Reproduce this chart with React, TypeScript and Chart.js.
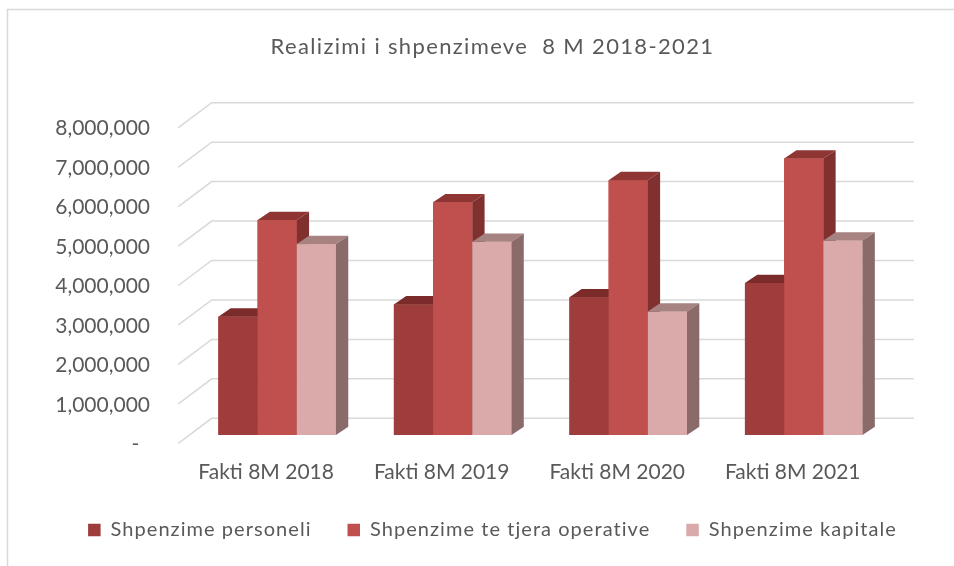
import React, { useEffect, useRef } from 'react';
import { Chart, registerables } from 'chart.js';

Chart.register(...registerables);

const titleText = 'Realizimi i shpenzimeve  8 M 2018-2021';
const categories = ['Fakti 8M 2018', 'Fakti 8M 2019', 'Fakti 8M 2020', 'Fakti 8M 2021'];
const seriesNames = ['Shpenzime personeli', 'Shpenzime te tjera operative', 'Shpenzime kapitale'];
const personeli = [3000000, 3310000, 3490000, 3850000];
const operative = [5450000, 5900000, 6460000, 7010000];
const kapitale = [4840000, 4900000, 3130000, 4930000];
const yMin = 0;
const yMax = 8000000;
const yStep = 1000000;

const FRONT = ['#9E3D3B', '#C0504D', '#D9AAA9'];
const TOP = ['#7B2B2A', '#8F3634', '#A68281'];
const SIDE = ['#6E2624', '#80302E', '#8B6B6A'];
const TEXT = '#595959';
const GRID = '#D9D9D9';
const FONT = 'Lato';

// 3D projection offsets (pixels)
const DX = 12.3, DY = -8.3;
const BACK_DX = 22.3, BACK_DY = -16.7, FRONT_DX = -11.1, FRONT_DY = 8.3;
const TITLE_LS = '1.35px';
const LEGEND_LS = '1.05px';

const threeD = {
  id: 'threeD',
  beforeLayout(chart: any) {
    const tb = chart.titleBlock;
    if (tb && !tb.__ls) {
      tb.__ls = true;
      const orig = tb.draw;
      tb.draw = function (...a: any[]) {
        const c = this.ctx; c.save(); (c as any).letterSpacing = TITLE_LS; orig.apply(this, a); c.restore();
      };
    }
    const lg = chart.legend;
    if (lg && !lg.__ls) {
      lg.__ls = true;
      const of = lg.fit, od = lg.draw;
      lg.fit = function (...a: any[]) {
        const c = this.ctx; c.save(); (c as any).letterSpacing = LEGEND_LS; of.apply(this, a); c.restore();
      };
      lg.draw = function (...a: any[]) {
        const c = this.ctx; c.save(); (c as any).letterSpacing = LEGEND_LS; od.apply(this, a); c.restore();
      };
    }
  },
  beforeDraw(chart: any) {
    const { ctx, width, height } = chart;
    ctx.save();
    ctx.fillStyle = '#ffffff';
    ctx.fillRect(0, 0, width, height);
    ctx.strokeStyle = GRID;
    ctx.lineWidth = 1.5;
    ctx.beginPath();
    ctx.moveTo(7.5, height + 2);
    ctx.lineTo(7.5, 9.5);
    ctx.lineTo(width + 2, 9.5);
    ctx.stroke();
    ctx.restore();
  },
  beforeDatasetsDraw(chart: any) {
    const { ctx, chartArea } = chart;
    const ys = chart.scales.y;
    ctx.save();
    ctx.strokeStyle = GRID;
    ctx.lineWidth = 1.5;
    for (let v = yMin; v <= yMax; v += yStep) {
      const py = ys.getPixelForValue(v);
      ctx.beginPath();
      ctx.moveTo(chartArea.left + FRONT_DX, py + FRONT_DY);
      ctx.lineTo(chartArea.left + BACK_DX, py + BACK_DY);
      ctx.lineTo(chartArea.right + BACK_DX, py + BACK_DY);
      ctx.stroke();
    }
    ctx.restore();
  },
  afterDatasetsDraw(chart: any) {
    const { ctx } = chart;
    const n = chart.data.labels.length;
    ctx.save();
    for (let i = 0; i < n; i++) {
      chart.data.datasets.forEach((_: any, d: number) => {
        const meta = chart.getDatasetMeta(d);
        const el = meta.data[i];
        if (!el) return;
        const { x, y, base, width } = el.getProps(['x', 'y', 'base', 'width'], true);
        const l = x - width / 2, r = x + width / 2;
        ctx.fillStyle = FRONT[d];
        ctx.fillRect(l, y, width, base - y);
        ctx.fillStyle = TOP[d];
        ctx.beginPath();
        ctx.moveTo(l, y); ctx.lineTo(r, y); ctx.lineTo(r + DX, y + DY); ctx.lineTo(l + DX, y + DY);
        ctx.closePath(); ctx.fill();
        ctx.fillStyle = SIDE[d];
        ctx.beginPath();
        ctx.moveTo(r, y); ctx.lineTo(r + DX, y + DY); ctx.lineTo(r + DX, base + DY); ctx.lineTo(r, base);
        ctx.closePath(); ctx.fill();
      });
    }
    ctx.restore();
  },
};

export default function App() {
  const ref = useRef<HTMLCanvasElement | null>(null);
  useEffect(() => {
    document.body.style.margin = '0';
    const canvas = ref.current!;
    const series = [personeli, operative, kapitale];
    const chart = new Chart(canvas, {
      type: 'bar',
      data: {
        labels: categories,
        datasets: series.map((s, d) => ({
          label: seriesNames[d],
          data: s,
          backgroundColor: FRONT[d],
          borderWidth: 0,
          barPercentage: 1.0,
          categoryPercentage: 0.67,
        })),
      },
      plugins: [threeD],
      options: {
        responsive: false,
        animation: false,
        layout: { padding: { left: 31, right: 0, top: 0, bottom: 16 } },
        plugins: {
          tooltip: { enabled: false },
          title: {
            display: true,
            text: titleText,
            color: TEXT,
            font: { family: FONT, size: 22, weight: 'normal' },
            padding: { top: 34, bottom: 59 },
          },
          legend: {
            position: 'bottom',
            labels: {
              color: TEXT,
              font: { family: FONT, size: 20 },
              boxWidth: 12.5,
              boxHeight: 12.5,
              padding: 36,
            },
          },
        },
        scales: {
          x: {
            grid: { display: false, drawTicks: false },
            border: { display: false },
            ticks: { color: TEXT, font: { family: FONT, size: 21 }, padding: 24.4, labelOffset: -11, maxRotation: 0 },
            afterFit: (s: any) => { s.height = 49; },
          },
          y: {
            min: yMin,
            max: yMax,
            grid: { display: false, drawTicks: false },
            border: { display: false },
            ticks: {
              stepSize: yStep,
              color: TEXT,
              font: { family: FONT, size: 21 },
              padding: 39.4,
              labelOffset: 9.2,
              callback: (v: any) => (Number(v) === 0 ? '-  ' : Number(v).toLocaleString('en-US')),
            },
            afterFit: (s: any) => { s.width = 158.4; },
          },
          y2: {
            position: 'right',
            display: true,
            grid: { display: false, drawTicks: false },
            border: { display: false },
            ticks: { display: false },
            afterFit: (s: any) => { s.width = 62.5; },
          },
        },
      },
    } as any);
    return () => chart.destroy();
  }, []);
  return (
    <div style={{ width: 954, height: 566 }}>
      <canvas ref={ref} width={954} height={566} style={{ display: 'block' }} />
    </div>
  );
}
